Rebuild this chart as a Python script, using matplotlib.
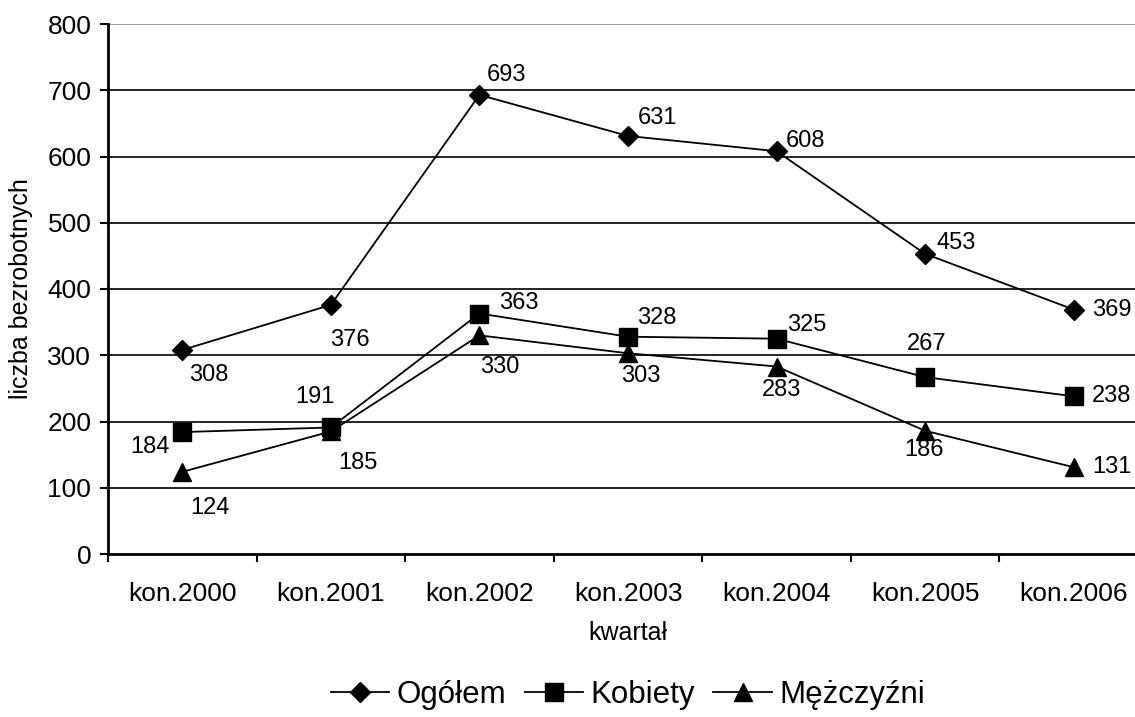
import numpy as np
import matplotlib
matplotlib.use("Agg")
import matplotlib.pyplot as plt
from matplotlib.ticker import FixedLocator, NullFormatter

plt.rcParams['font.family'] = ['Liberation Sans', 'DejaVu Sans']

# data
kwartaly = ['kon.2000', 'kon.2001', 'kon.2002', 'kon.2003', 'kon.2004', 'kon.2005', 'kon.2006']
ogolem = [308, 376, 693, 631, 608, 453, 369]
kobiety = [184, 191, 363, 328, 325, 267, 238]
mezczyzni = [124, 185, 330, 303, 283, 186, 131]

# label offsets in pixels (dx right, dy down) as placed in the original
off_ogolem = [(26, 25), (19, 35), (27, -20), (29, -18), (29, -10), (31, -11), (38, 0)]
off_kobiety = [(-32, 15), (-16, -30), (39, -11), (29, -19), (30, -14), (2, -33), (38, 0)]
off_mezczyzni = [(28, 36), (27, 32), (20, 32), (13, 23), (5, 23), (-1, 19), (38, 0)]

W, H = 1135, 717
fig = plt.figure(figsize=(W / 100, H / 100), dpi=100)
ax = fig.add_axes([108 / W, 1 - 554 / H, (1148 - 108) / W, (554 - 24) / H])

x = np.arange(len(kwartaly))
series = [
    ('Ogółem', ogolem, 'D', 10.5, off_ogolem),
    ('Kobiety', kobiety, 's', 12.5, off_kobiety),
    ('Mężczyźni', mezczyzni, '^', 13, off_mezczyzni),
]

for name, vals, mk, ms, offs in series:
    ax.plot(x, vals, color='black', lw=1.3, marker=mk, markersize=ms,
            label=name, zorder=3, clip_on=False)
    for xi, v, (dx, dy) in zip(x, vals, offs):
        ax.annotate(str(v), (xi, v), xytext=(dx, -dy), textcoords='offset pixels',
                    ha='center', va='center', fontsize=17, zorder=4)

ax.set_ylim(0, 800)
ax.set_xlim(-0.5, 6.5)
ax.set_yticks(np.arange(0, 801, 100))
for yv in range(100, 800, 100):
    ax.axhline(yv, color='black', lw=1.2, zorder=1)
ax.axhline(800, color='#888888', lw=1.2, zorder=1)

ax.xaxis.set_major_locator(FixedLocator(np.arange(-0.5, 7.0, 1.0)))
ax.xaxis.set_major_formatter(NullFormatter())
ax.xaxis.set_minor_locator(FixedLocator(x))
ax.set_xticklabels(kwartaly, minor=True)
ax.tick_params(axis='x', which='major', direction='out', length=6, width=1.5)
ax.tick_params(axis='x', which='minor', length=0, pad=20, labelsize=19)
ax.tick_params(axis='y', direction='out', length=6, width=1.5, labelsize=19, pad=6)

for s in ['top', 'right']:
    ax.spines[s].set_visible(False)
ax.spines['left'].set_linewidth(2)
ax.spines['bottom'].set_linewidth(2)

ax.set_ylabel('liczba bezrobotnych', fontsize=18)
ax.yaxis.set_label_coords((33 - 108) / 1040, 0.5)
ax.set_xlabel('kwartał', fontsize=18)
ax.xaxis.set_label_coords(0.5, -(621 - 554) / 530)

fig.legend(loc='center', bbox_to_anchor=(628 / W, 1 - 695 / H), ncol=3, frameon=False,
           fontsize=22.5, handlelength=1.86, handletextpad=0.26, columnspacing=0.58)

fig.savefig('out.png', dpi=100)
